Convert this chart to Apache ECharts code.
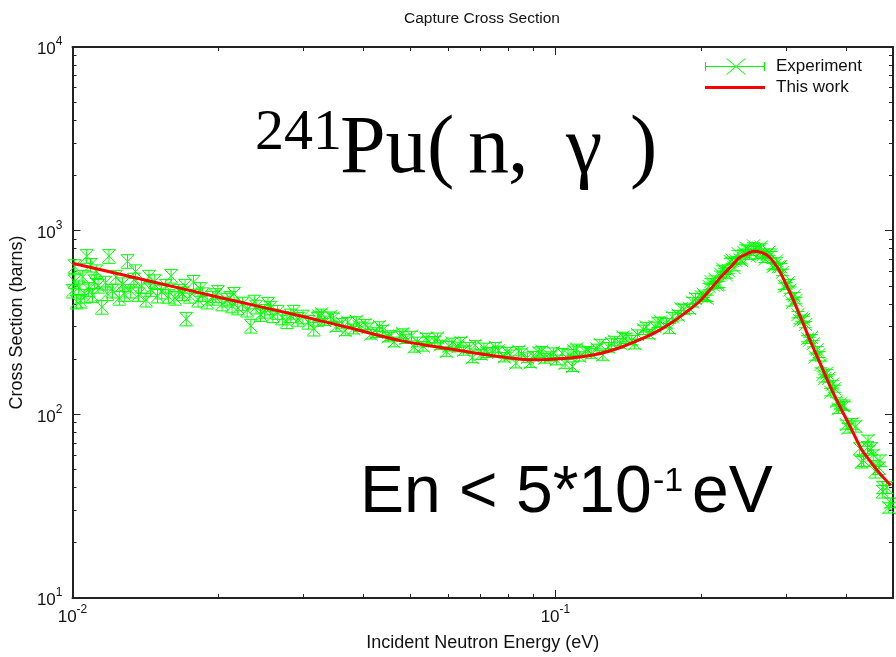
<!DOCTYPE html>
<html>
<head>
<meta charset="UTF-8">
<title>Capture Cross Section</title>
<script src="https://cdn.jsdelivr.net/npm/echarts@6/dist/echarts.min.js"></script>
<style>html,body{margin:0;padding:0;background:#fff;}</style>
</head>
<body>
<div id="main" style="width:896px;height:657px;"></div>
<script type="text/javascript">
// energy (eV), cross section (barns), error (barns)
var experiment = [
  [0.0100, 470, 40], [0.0101, 530, 45], [0.0101, 640, 54], [0.0102, 410, 35], [0.0103, 490, 42],
  [0.0104, 414, 35], [0.0105, 560, 48], [0.0106, 440, 37], [0.0107, 726, 62], [0.0108, 480, 41],
  [0.0109, 650, 55], [0.0110, 445, 38], [0.0111, 530, 45], [0.0112, 600, 51], [0.0113, 500, 43],
  [0.0115, 384, 33], [0.0117, 520, 44], [0.0118, 455, 39], [0.0119, 726, 62], [0.0121, 470, 40],
  [0.0123, 560, 48], [0.0125, 430, 37], [0.0127, 510, 43], [0.0128, 450, 38], [0.0130, 682, 58],
  [0.0132, 470, 40], [0.0134, 540, 46], [0.0135, 600, 51], [0.0137, 450, 38], [0.0139, 500, 43],
  [0.0142, 420, 36], [0.0144, 560, 48], [0.0145, 480, 41], [0.0148, 530, 45], [0.0150, 441, 37],
  [0.0153, 465, 40], [0.0156, 500, 43], [0.0158, 440, 37], [0.0160, 566, 48], [0.0163, 430, 37],
  [0.0166, 470, 40], [0.0169, 455, 39], [0.0171, 500, 43], [0.0172, 331, 28], [0.0175, 440, 37],
  [0.0178, 525, 45], [0.0182, 420, 36], [0.0184, 480, 41], [0.0186, 450, 38], [0.0190, 410, 35],
  [0.0195, 430, 37], [0.0198, 445, 38], [0.0200, 463, 39], [0.0204, 400, 34], [0.0209, 420, 36],
  [0.0212, 430, 37], [0.0214, 390, 33], [0.0216, 452, 38], [0.0220, 380, 32], [0.0225, 400, 34],
  [0.0230, 370, 31], [0.0234, 303, 26], [0.0238, 410, 35], [0.0240, 385, 33], [0.0245, 350, 30],
  [0.0250, 365, 31], [0.0254, 399, 34], [0.0257, 380, 32], [0.0260, 345, 29], [0.0266, 360, 31],
  [0.0272, 335, 28], [0.0278, 320, 27], [0.0283, 345, 29], [0.0287, 361, 31], [0.0293, 330, 28],
  [0.0300, 340, 29], [0.0308, 318, 27], [0.0316, 292, 25], [0.0322, 330, 28],
  [0.03236, 343, 21], [0.0328, 353, 21], [0.03327, 324, 19], [0.0342, 341, 20], [0.0347, 335, 20],
  [0.03516, 301, 18], [0.03614, 314, 19], [0.0367, 285, 17], [0.03715, 318, 19], [0.03819, 292, 18],
  [0.0387, 321, 19], [0.03926, 300, 18], [0.04036, 309, 19], [0.0409, 296, 18], [0.0415, 273, 16],
  [0.04266, 279, 17], [0.0432, 301, 18], [0.04385, 287, 17], [0.04508, 264, 16], [0.0457, 269, 16],
  [0.04634, 248, 15], [0.04764, 267, 16], [0.0483, 275, 17], [0.04898, 258, 15], [0.05035, 267, 16],
  [0.0510, 232, 14], [0.05176, 248, 15], [0.05321, 235, 14], [0.0540, 260, 16], [0.0547, 249, 15],
  [0.05623, 250, 15], [0.0570, 261, 16], [0.05781, 239, 14], [0.05943, 220, 13], [0.0602, 235, 14],
  [0.06109, 245, 15], [0.0628, 233, 14], [0.0637, 247, 15], [0.06457, 223, 13], [0.06637, 232, 14],
  [0.0673, 203, 12], [0.06823, 238, 14], [0.07015, 212, 13], [0.0711, 230, 14], [0.07211, 217, 13],
  [0.07413, 218, 13], [0.0751, 232, 14], [0.07621, 222, 13], [0.07834, 205, 12], [0.0794, 218, 13],
  [0.08054, 211, 13], [0.08279, 190, 11], [0.0839, 221, 13], [0.08511, 214, 13], [0.0875, 204, 12],
  [0.0887, 191, 11], [0.08995, 208, 12], [0.09247, 217, 13], [0.0937, 221, 13], [0.09506, 202, 12],
  [0.09772, 207, 12], [0.0990, 217, 13], [0.1005, 198, 12], [0.1033, 215, 13], [0.1047, 189, 11],
  [0.1062, 212, 13], [0.1085, 182, 11], [0.1091, 222, 13], [0.1106, 227, 14], [0.1122, 207, 12],
  [0.1153, 219, 13], [0.1169, 221, 13], [0.1186, 215, 13], [0.1219, 227, 14], [0.1236, 241, 14],
  [0.1253, 210, 13], [0.1288, 232, 14], [0.1306, 243, 15], [0.1324, 251, 15], [0.1361, 244, 15],
  [0.1380, 264, 16], [0.1400, 259, 16], [0.1439, 254, 15], [0.1459, 242, 15], [0.1479, 272, 16],
  [0.1521, 289, 17], [0.1542, 299, 18], [0.1563, 274, 16], [0.1607, 300, 18], [0.1630, 316, 19],
  [0.1652, 319, 19], [0.1698, 314, 19], [0.1722, 294, 18], [0.1746, 339, 20], [0.1795, 347, 21],
  [0.1820, 376, 23], [0.1845, 374, 22], [0.1897, 376, 23], [0.1924, 408, 24], [0.1950, 428, 26],
  [0.2004, 437, 17], [0.2023, 451, 18], [0.2042, 435, 17], [0.2061, 428, 17], [0.2080, 497, 20],
  [0.2099, 529, 21], [0.2118, 505, 20], [0.2138, 545, 22], [0.2158, 507, 20], [0.2178, 510, 20],
  [0.2198, 580, 23], [0.2218, 619, 25], [0.2239, 601, 24], [0.2259, 574, 23], [0.2280, 607, 24],
  [0.2301, 679, 27], [0.2323, 691, 28], [0.2344, 629, 25], [0.2366, 686, 27], [0.2388, 751, 30],
  [0.2410, 696, 28], [0.2432, 685, 27], [0.2455, 762, 30], [0.2477, 805, 32], [0.2500, 795, 32],
  [0.2523, 725, 29], [0.2547, 761, 30], [0.2570, 827, 33], [0.2594, 789, 32], [0.2618, 732, 29],
  [0.2642, 800, 32], [0.2667, 815, 33], [0.2692, 740, 30], [0.2717, 699, 28], [0.2742, 740, 30],
  [0.2768, 765, 31], [0.2793, 740, 30], [0.2820, 637, 25], [0.2844, 647, 26], [0.2870, 685, 27],
  [0.2897, 637, 25], [0.2924, 637, 25], [0.2951, 593, 24], [0.2978, 498, 20], [0.3006, 501, 20],
  [0.3034, 521, 21], [0.3062, 475, 19], [0.3090, 405, 16], [0.3119, 442, 18], [0.3148, 417, 17],
  [0.3177, 349, 14], [0.3206, 324, 13], [0.3236, 334, 13], [0.3266, 329, 13], [0.3296, 308, 12],
  [0.3326, 258, 10], [0.3357, 253, 10], [0.3388, 262, 10], [0.3420, 243, 10], [0.3451, 205, 8],
  [0.3483, 225, 9], [0.3515, 212, 8], [0.3548, 187, 8], [0.3581, 165, 7], [0.3614, 157, 7],
  [0.3647, 168, 7], [0.3681, 157, 7], [0.3715, 132, 6], [0.3750, 146, 7], [0.3784, 138, 6],
  [0.3819, 117, 6], [0.3854, 107, 6], [0.3890, 114, 6], [0.3926, 112, 6], [0.3963, 111, 6],
  [0.4000, 88, 5], [0.4036, 84, 5], [0.4111, 89, 6], [0.4188, 86, 6], [0.4266, 65, 5],
  [0.4300, 55, 4], [0.4345, 56, 4], [0.4426, 66, 5], [0.4440, 72, 5], [0.4508, 65, 5],
  [0.4550, 60, 4], [0.4592, 49, 4], [0.4677, 51, 4], [0.4700, 56, 4], [0.4760, 38, 3],
  [0.4764, 40, 3], [0.4853, 40, 3], [0.4900, 31, 2], [0.4943, 33, 2]
];

var thisWork = [
  [0.0100, 665], [0.01455, 529], [0.0203, 431], [0.0297, 343], [0.0378, 294],
  [0.0477, 252], [0.0605, 227], [0.0767, 206], [0.0897, 198], [0.1054, 202],
  [0.1202, 211], [0.1349, 229], [0.149, 254], [0.1622, 282], [0.1742, 316],
  [0.1862, 359], [0.1982, 409], [0.2094, 480], [0.221, 566], [0.2307, 635],
  [0.2396, 708], [0.2488, 746], [0.2572, 773], [0.2665, 762], [0.2762, 726],
  [0.2897, 617], [0.2988, 525], [0.3082, 441], [0.3186, 360], [0.3292, 292],
  [0.3395, 240], [0.3502, 200], [0.3611, 166], [0.3724, 138], [0.385, 115],
  [0.398, 97], [0.413, 80], [0.4295, 65], [0.4474, 56], [0.4656, 48.9], [0.4946, 41]
];

var xRange = [0.01, 0.5];
var yRange = [10, 10000];
var xDecades = [0.01, 0.1];
var yDecades = [10, 100, 1000];
var minorSteps = [2, 3, 4, 5, 6, 7, 8, 9];

var sansFont = '"Liberation Sans", Arial, Helvetica, sans-serif';
var serifFont = '"Liberation Serif", "DejaVu Serif", serif';
var axisColor = '#222';
var textColor = '#111';

function minorTicks(decades, max) {
  var out = [];
  decades.forEach(function (d) {
    minorSteps.forEach(function (m) {
      var v = d * m;
      if (v < max) out.push(Math.log10(v));
    });
  });
  return out;
}
var xMinor = minorTicks(xDecades, xRange[1]);
var yMinor = minorTicks(yDecades, yRange[1]);

function powLabel(v) {
  var l = Math.log10(v);
  var e = Math.round(l);
  if (Math.abs(l - e) > 1e-6) return '';
  return '{b|10}{s|' + e + '}';
}
var labelRich = {
  b: { fontSize: 17, fontFamily: sansFont, color: textColor, padding: [5, 0, 0, 0] },
  s: { fontSize: 12, fontFamily: sansFont, color: textColor, verticalAlign: 'top' }
};

function logAxis(pos, range, withLabels) {
  return {
    type: 'log', logBase: 10, min: range[0], max: range[1], position: pos,
    axisLine: { show: true, onZero: false, lineStyle: { color: axisColor, width: 2 } },
    axisTick: { show: true, inside: true, length: 8, lineStyle: { color: axisColor, width: 1 } },
    axisLabel: withLabels ? { show: true, formatter: powLabel, rich: labelRich, margin: 6 } : { show: false },
    splitLine: { show: false }
  };
}
function minorAxis(pos, range, ticks) {
  return {
    type: 'value', min: Math.log10(range[0]), max: Math.log10(range[1]), position: pos,
    axisLine: { show: false, onZero: false },
    axisTick: { show: true, inside: true, length: 4, customValues: ticks, lineStyle: { color: axisColor, width: 1 } },
    axisLabel: { show: false },
    splitLine: { show: false }
  };
}

function renderErrorPoint(params, api) {
  var e = api.value(0), s = api.value(1), d = api.value(2);
  var c = api.coord([e, s]);
  var top = api.coord([e, s + d])[1];
  var bot = api.coord([e, s - d])[1];
  var h = 6.5;
  var st = { stroke: '#00ff00', lineWidth: 1, fill: null };
  return {
    type: 'group',
    children: [
      { type: 'line', shape: { x1: c[0], y1: top, x2: c[0], y2: bot }, style: st },
      { type: 'line', shape: { x1: c[0] - h, y1: top, x2: c[0] + h, y2: top }, style: st },
      { type: 'line', shape: { x1: c[0] - h, y1: bot, x2: c[0] + h, y2: bot }, style: st },
      { type: 'line', shape: { x1: c[0] - h, y1: c[1] - h, x2: c[0] + h, y2: c[1] + h }, style: st },
      { type: 'line', shape: { x1: c[0] - h, y1: c[1] + h, x2: c[0] + h, y2: c[1] - h }, style: st }
    ]
  };
}

// legend icons drawn in a 60x16 box
var expIcon = 'path://M0,7.5L60,7.5L60,8.5L0,8.5Z M0,3.5L1,3.5L1,12.5L0,12.5Z M59,3.5L60,3.5L60,12.5L59,12.5Z ' +
  'M21,0L22.3,0L41,16L39.7,16Z M41,0L39.7,0L21,16L22.3,16Z';
var lineIcon = 'path://M0,0L0.05,0L0.05,0.05Z M0,6.5L60,6.5L60,9.5L0,9.5Z M59.95,16L60,16L60,15.95Z';

var myChart = echarts.init(document.getElementById('main'));

var xMain = logAxis('bottom', xRange, true);
xMain.name = 'Incident Neutron Energy (eV)';
xMain.nameLocation = 'middle';
xMain.nameGap = 36;
xMain.nameTextStyle = { fontSize: 18, fontFamily: sansFont, color: textColor };

var yMain = logAxis('left', yRange, true);
yMain.name = 'Cross Section (barns)';
yMain.nameLocation = 'middle';
yMain.nameGap = 43;
yMain.nameTextStyle = { fontSize: 18, fontFamily: sansFont, color: textColor };
yMain.axisLabel.margin = 10;

var option = {
  backgroundColor: '#ffffff',
  animation: false,
  title: {
    text: 'Capture Cross Section',
    left: 482, top: 11, padding: 0, textAlign: 'center',
    textStyle: { fontSize: 15.5, fontWeight: 'normal', color: textColor, fontFamily: sansFont }
  },
  legend: {
    orient: 'vertical', left: 705, top: 58, padding: 0,
    itemWidth: 60, itemHeight: 16, itemGap: 4, selectedMode: false,
    textStyle: { fontSize: 17, color: textColor, fontFamily: sansFont, padding: [0, 0, 0, 6] },
    data: [{ name: 'Experiment', icon: expIcon }, { name: 'This work', icon: lineIcon }]
  },
  grid: { left: 71, right: 3, top: 47, bottom: 57, containLabel: false },
  xAxis: [
    xMain,
    logAxis('top', xRange, false),
    minorAxis('bottom', xRange, xMinor),
    minorAxis('top', xRange, xMinor)
  ],
  yAxis: [
    yMain,
    logAxis('right', yRange, false),
    minorAxis('left', yRange, yMinor),
    minorAxis('right', yRange, yMinor)
  ],
  series: [
    {
      name: 'Experiment', type: 'custom', xAxisIndex: 0, yAxisIndex: 0,
      data: experiment, encode: { x: 0, y: 1 }, renderItem: renderErrorPoint,
      itemStyle: { color: '#00ff00' }, clip: false, z: 2
    },
    {
      name: 'This work', type: 'line', xAxisIndex: 0, yAxisIndex: 0,
      data: thisWork, symbol: 'none', showSymbol: false, smooth: 0.3,
      lineStyle: { color: '#ff0000', width: 3 }, itemStyle: { color: '#ff0000' }, z: 3
    }
  ],
  graphic: [
    { type: 'text', x: 255, y: 134, style: { text: '241', fontSize: 58, fontFamily: serifFont, fill: '#000', verticalAlign: 'middle' } },
    { type: 'text', x: 340, y: 150, style: { text: 'Pu', fontSize: 82, fontFamily: serifFont, fill: '#000', verticalAlign: 'middle' } },
    { type: 'text', x: 427, y: 150, style: { text: '(', fontSize: 82, fontFamily: serifFont, fill: '#000', verticalAlign: 'middle' } },
    { type: 'text', x: 468, y: 150, style: { text: 'n', fontSize: 82, fontFamily: serifFont, fill: '#000', verticalAlign: 'middle' } },
    { type: 'text', x: 508, y: 150, style: { text: ',', fontSize: 82, fontFamily: serifFont, fill: '#000', verticalAlign: 'middle' } },
    { type: 'text', x: 566, y: 150, style: { text: 'γ', fontSize: 82, fontFamily: serifFont, fill: '#000', verticalAlign: 'middle' } },
    { type: 'text', x: 630, y: 150, style: { text: ')', fontSize: 82, fontFamily: serifFont, fill: '#000', verticalAlign: 'middle' } },
    { type: 'text', x: 360, y: 494, style: { text: 'En < 5*10', fontSize: 66, fontFamily: sansFont, fill: '#000', verticalAlign: 'middle' } },
    { type: 'text', x: 653, y: 482, style: { text: '-1', fontSize: 34, fontFamily: sansFont, fill: '#000', verticalAlign: 'middle' } },
    { type: 'text', x: 692, y: 494, style: { text: 'eV', fontSize: 66, fontFamily: sansFont, fill: '#000', verticalAlign: 'middle' } }
  ]
};

myChart.setOption(option);
</script>
</body>
</html>
